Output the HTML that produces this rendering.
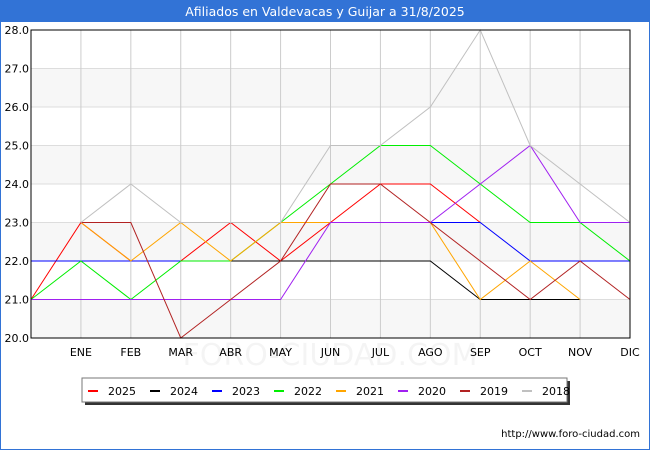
<!DOCTYPE html>
<html><head><meta charset="utf-8"><style>
body{margin:0;width:650px;height:450px;overflow:hidden;background:#fff;font-family:"Liberation Sans","DejaVu Sans",sans-serif}
</style></head><body>
<svg id="chart" width="650" height="450" xmlns="http://www.w3.org/2000/svg" font-family="DejaVu Sans, Liberation Sans, sans-serif">
<rect x="0.5" y="0.5" width="649" height="449" fill="#fff" stroke="#3273d6"/>
<rect x="0" y="0" width="650" height="22" fill="#3273d6"/>
<text x="325" y="16" text-anchor="middle" font-size="12.5" fill="#fff">Afiliados en Valdevacas y Guijar a 31/8/2025</text>
<g id="grid"></g>
<g id="series"></g>
<rect x="31" y="30" width="599" height="308" fill="none" stroke="#000"/>
<g id="axes"></g>
<text x="330" y="365" text-anchor="middle" font-size="30" fill="#000" opacity="0.04">FORO-CIUDAD.COM</text>
<rect x="85" y="381" width="485" height="24" fill="#333"/>
<rect x="82" y="378" width="485" height="24" fill="#fff" stroke="#777"/>
<g id="legend"></g>
<text x="640" y="437" text-anchor="end" font-size="10" fill="#000">http://www.foro-ciudad.com</text>
</svg>
<script>
const categories=["","ENE","FEB","MAR","ABR","MAY","JUN","JUL","AGO","SEP","OCT","NOV","DIC"];
const yTicks=[20,21,22,23,24,25,26,27,28];
const seriesNames=["2025","2024","2023","2022","2021","2020","2019","2018"];
const seriesColors=["#ff0000","#000000","#0000ff","#00ee00","#ffa500","#a020f0","#b22222","#c0c0c0"];
const s2025=[21,23,22,22,23,22,23,24,24,23,null,null,null];
const s2024=[22,22,22,22,22,22,22,22,22,21,21,21,null];
const s2023=[22,22,22,22,null,null,null,null,23,23,22,22,22];
const s2022=[21,22,21,22,22,23,24,25,25,24,23,23,22];
const s2021=[null,23,22,23,22,23,23,23,23,21,22,21,null];
const s2020=[21,21,21,21,21,21,23,23,23,24,25,23,23];
const s2019=[null,23,23,20,21,22,24,24,23,22,21,22,21];
const s2018=[null,23,24,23,23,23,25,25,26,28,25,24,23];
const allSeries=[s2025,s2024,s2023,s2022,s2021,s2020,s2019,s2018];
const NS="http://www.w3.org/2000/svg";
const X0=31,X1=630,Y0=338,Y1=30,YMIN=20,YMAX=28;
const xs=i=>X0+i*(X1-X0)/(categories.length-1);
const ys=v=>Y0-(v-YMIN)*(Y0-Y1)/(YMAX-YMIN);
function mk(t,a,p){const e=document.createElementNS(NS,t);for(const k in a)e.setAttribute(k,a[k]);p.appendChild(e);return e;}
const grid=document.getElementById('grid'),axes=document.getElementById('axes'),ser=document.getElementById('series'),leg=document.getElementById('legend');
for(let i=0;i<yTicks.length-1;i++){
 if(i%2===0){const r=mk('rect',{x:X0,y:ys(yTicks[i+1]),width:X1-X0,height:ys(yTicks[i])-ys(yTicks[i+1]),fill:'#f7f7f7'},grid);
 
 }
}
yTicks.forEach(v=>{
 const l=mk('line',{x1:X0,x2:X1,y1:ys(v),y2:ys(v),stroke:'#ddd'},grid);
 
 
 const t=mk('text',{x:X0-2,y:ys(v)+4,'text-anchor':'end','font-size':11,fill:'#000'},axes);
 
 
 t.textContent=v.toFixed(1);
});
categories.forEach((c,i)=>{
 if(i===0)return;
 const l=mk('line',{x1:xs(i),x2:xs(i),y1:Y1,y2:Y0,stroke:'#ccc'},grid);
 
 
 const t=mk('text',{x:xs(i),y:356,'text-anchor':'middle','font-size':11,fill:'#000'},axes);
 
 
 t.textContent=c;
});
allSeries.forEach((d,si)=>{
 let segs=[],cur=[];
 d.forEach((v,i)=>{if(v==null){if(cur.length)segs.push(cur);cur=[];}else cur.push(xs(i)+','+ys(v));});
 if(cur.length)segs.push(cur);
 segs.forEach(s=>{
  const p=mk('polyline',{points:s.join(' '),fill:'none',stroke:seriesColors[si],'stroke-width':1},ser);
  
  
 });
 const lx=88+si*62;
 const ll=mk('line',{x1:lx,x2:lx+10,y1:391,y2:391,stroke:seriesColors[si],'stroke-width':2},leg);
 
 
 const lt=mk('text',{x:lx+20,y:395,'font-size':11,fill:'#000'},leg);
 
 
 lt.textContent=seriesNames[si];
});
</script>
</body></html>
